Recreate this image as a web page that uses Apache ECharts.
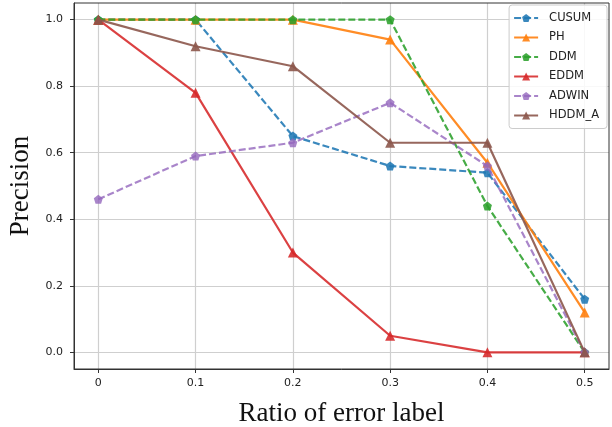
<!DOCTYPE html>
<html>
<head>
<meta charset="utf-8">
<script src="https://cdn.jsdelivr.net/npm/echarts@6/dist/echarts.min.js"></script>
<style>html,body{margin:0;padding:0;background:#fff}#c{width:612px;height:427px}</style>
</head>
<body>
<div id="c"></div>
<script>
const xValues = [0, 0.1, 0.2, 0.3, 0.4, 0.5];
const yTicks = [0, 0.2, 0.4, 0.6, 0.8, 1.0];
const seriesNames = ['CUSUM', 'PH', 'DDM', 'EDDM', 'ADWIN', 'HDDM_A'];
const cusum = [1.0, 1.0, 0.65, 0.56, 0.54, 0.16];
const ph = [1.0, 1.0, 1.0, 0.94, 0.57, 0.12];
const ddm = [1.0, 1.0, 1.0, 1.0, 0.44, 0.0];
const eddm = [1.0, 0.78, 0.30, 0.05, 0.0, 0.0];
const adwin = [0.46, 0.59, 0.63, 0.75, 0.56, 0.0];
const hddmA = [1.0, 0.92, 0.86, 0.63, 0.63, 0.0];

const pent = 'path://M0,-1 L0.951,-0.309 L0.588,0.809 L-0.588,0.809 L-0.951,-0.309 Z';
const styles = [
  {color: 'rgba(31,119,180,0.88)', dash: 'dashed', sym: pent},
  {color: 'rgba(255,127,14,0.9)', dash: 'solid', sym: 'triangle'},
  {color: 'rgba(44,160,44,0.88)', dash: 'dashed', sym: pent},
  {color: 'rgba(214,39,40,0.88)', dash: 'solid', sym: 'triangle'},
  {color: 'rgba(148,103,189,0.8)', dash: 'dashed', sym: pent},
  {color: 'rgba(140,86,75,0.9)', dash: 'solid', sym: 'triangle'}
];
const allData = [cusum, ph, ddm, eddm, adwin, hddmA];

const series = allData.map((d, i) => ({
  name: seriesNames[i],
  type: 'line',
  data: d.map((v, j) => [xValues[j], v]),
  symbol: styles[i].sym,
  symbolSize: styles[i].sym === 'triangle' ? 10 : 9,
  showAllSymbol: true,
  lineStyle: {color: styles[i].color, width: 2.2, type: styles[i].dash === 'dashed' ? [7, 3] : 'solid'},
  itemStyle: {color: styles[i].color, borderWidth: 0},
  emphasis: {disabled: true},
  z: 2 + i,
  animation: false
}));

const chart = echarts.init(document.getElementById('c'), null, {renderer: 'canvas'});
chart.setOption({
  animation: false,
  backgroundColor: '#fff',
  grid: {left: 74, right: 3, top: 3, bottom: 58, containLabel: false, outerBoundsMode: 'none'},
  legend: {
    orient: 'vertical',
    right: 5,
    top: 5,
    itemWidth: 24,
    itemHeight: 10,
    itemGap: 7.5,
    padding: [7, 8, 7, 4],
    backgroundColor: 'rgba(255,255,255,0.85)',
    borderColor: '#cccccc',
    borderWidth: 1,
    borderRadius: 3,
    textStyle: {fontFamily: 'DejaVu Sans', fontSize: 11.5, color: '#222', padding: [0, 0, 0, 6]},
    data: seriesNames
  },
  xAxis: {
    type: 'value',
    min: -0.025,
    max: 0.525,
    name: 'Ratio of error label',
    nameLocation: 'middle',
    nameGap: 31,
    nameTextStyle: {fontFamily: 'Liberation Serif', fontSize: 27, color: '#111'},
    axisLine: {show: true, onZero: false, lineStyle: {color: '#333', width: 1}},
    axisTick: {show: true, length: 4, customValues: xValues, lineStyle: {color: '#333'}},
    axisLabel: {customValues: xValues, margin: 9, fontFamily: 'DejaVu Sans', fontSize: 11, color: '#222',
      formatter: v => v === 0 ? '0' : v.toFixed(1)},
    splitLine: {show: true, lineStyle: {color: '#cfcfcf', width: 1.2}}
  },
  yAxis: {
    type: 'value',
    min: -0.05,
    max: 1.05,
    name: 'Precision',
    nameLocation: 'middle',
    nameGap: 39,
    nameTextStyle: {fontFamily: 'Liberation Serif', fontSize: 27, color: '#111'},
    axisLine: {show: true, onZero: false, lineStyle: {color: '#333', width: 1}},
    axisTick: {show: true, length: 4, customValues: yTicks, lineStyle: {color: '#333'}},
    axisLabel: {customValues: yTicks, margin: 11, fontFamily: 'DejaVu Sans', fontSize: 11, color: '#222',
      formatter: v => v.toFixed(1)},
    splitLine: {show: true, lineStyle: {color: '#cfcfcf', width: 1.2}}
  },
  series: series
});
chart.setOption({
  graphic: [{
    type: 'rect', shape: {x: 74, y: 3, width: 535, height: 366},
    style: {fill: 'none', stroke: '#333', lineWidth: 1}, silent: true, z: 100
  }]
});
</script>
</body>
</html>
